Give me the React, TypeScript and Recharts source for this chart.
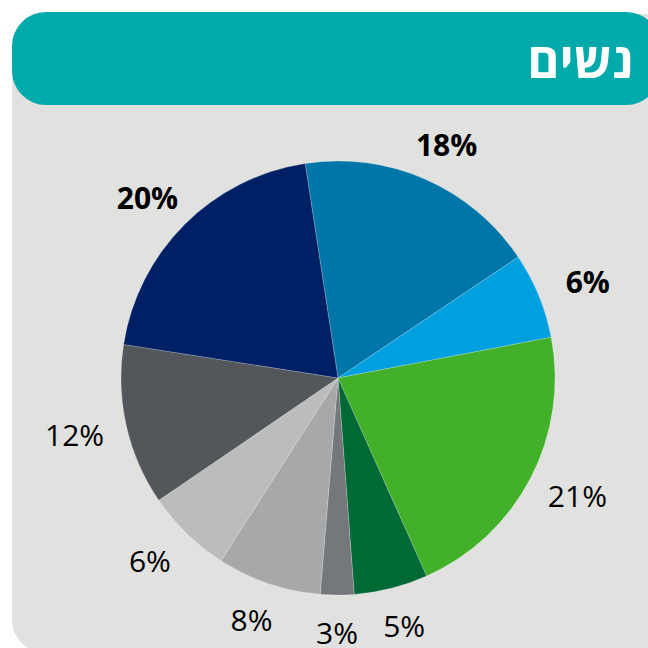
import React from "react";
import { PieChart, Pie, Cell } from "recharts";

const title = "נשים";
const sliceNames = ["s1", "s2", "s3", "s4", "s5", "s6", "s7", "s8", "s9"];
const sliceValues = [18.0, 6.4, 21.3, 5.5, 2.5, 7.75, 6.4, 12.0, 20.1];
const sliceLabels = ["18%", "6%", "21%", "5%", "3%", "8%", "6%", "12%", "20%"];
const sliceBold = [true, true, false, false, false, false, false, false, true];
const sliceColors = [
  "#0075A8",
  "#009FDF",
  "#43B02A",
  "#006A37",
  "#75787B",
  "#A7A8AA",
  "#BBBCBC",
  "#53565A",
  "#002066",
];

const data = sliceNames.map((n, i) => ({ name: n, value: sliceValues[i] }));

const RAD = Math.PI / 180;
const START = 98.7;

const renderLabel = (props: any) => {
  const { cx, cy, midAngle, index } = props;
  const rx = 270;
  const ry = 255;
  const x = cx + rx * Math.cos(-midAngle * RAD);
  const y = cy + ry * Math.sin(-midAngle * RAD);
  return (
    <text
      x={x}
      y={y}
      textAnchor="middle"
      dominantBaseline="central"
      fill="#000"
      fontFamily="'Open Sans', sans-serif"
      fontSize={30}
      fontWeight={sliceBold[index] ? 700 : 400}
    >
      {sliceLabels[index]}
    </text>
  );
};

export default function App() {
  return (
    <div
      style={{
        position: "absolute",
        left: 0,
        top: 0,
        width: 648,
        height: 648,
        overflow: "hidden",
        background: "#ffffff",
      }}
    >
      <div
        style={{
          position: "absolute",
          left: 12,
          top: 14,
          width: 680,
          height: 638,
          background: "#E1E1E0",
          borderRadius: 32,
        }}
      />
      <div
        style={{
          position: "absolute",
          left: 12,
          top: 12,
          width: 648,
          height: 93,
          background: "#00AAAA",
          borderRadius: 34,
        }}
      />
      <div
        style={{
          position: "absolute",
          right: 15,
          top: 29,
          height: 60,
          lineHeight: "60px",
          color: "#ffffff",
          fontFamily: "'Open Sans', sans-serif",
          fontWeight: 700,
          fontSize: 49,
          direction: "rtl",
        }}
      >
        {title}
      </div>
      <div style={{ position: "absolute", left: 0, top: 0 }}>
        <PieChart width={648} height={648}>
          <Pie
            data={data}
            dataKey="value"
            nameKey="name"
            cx={333}
            cy={373}
            outerRadius={217}
            startAngle={START}
            endAngle={START - 360}
            stroke="rgba(255,255,255,0.35)"
            strokeWidth={0.6}
            label={renderLabel}
            labelLine={false}
            isAnimationActive={false}
          >
            {data.map((d, i) => (
              <Cell key={d.name} fill={sliceColors[i]} />
            ))}
          </Pie>
        </PieChart>
      </div>
    </div>
  );
}
